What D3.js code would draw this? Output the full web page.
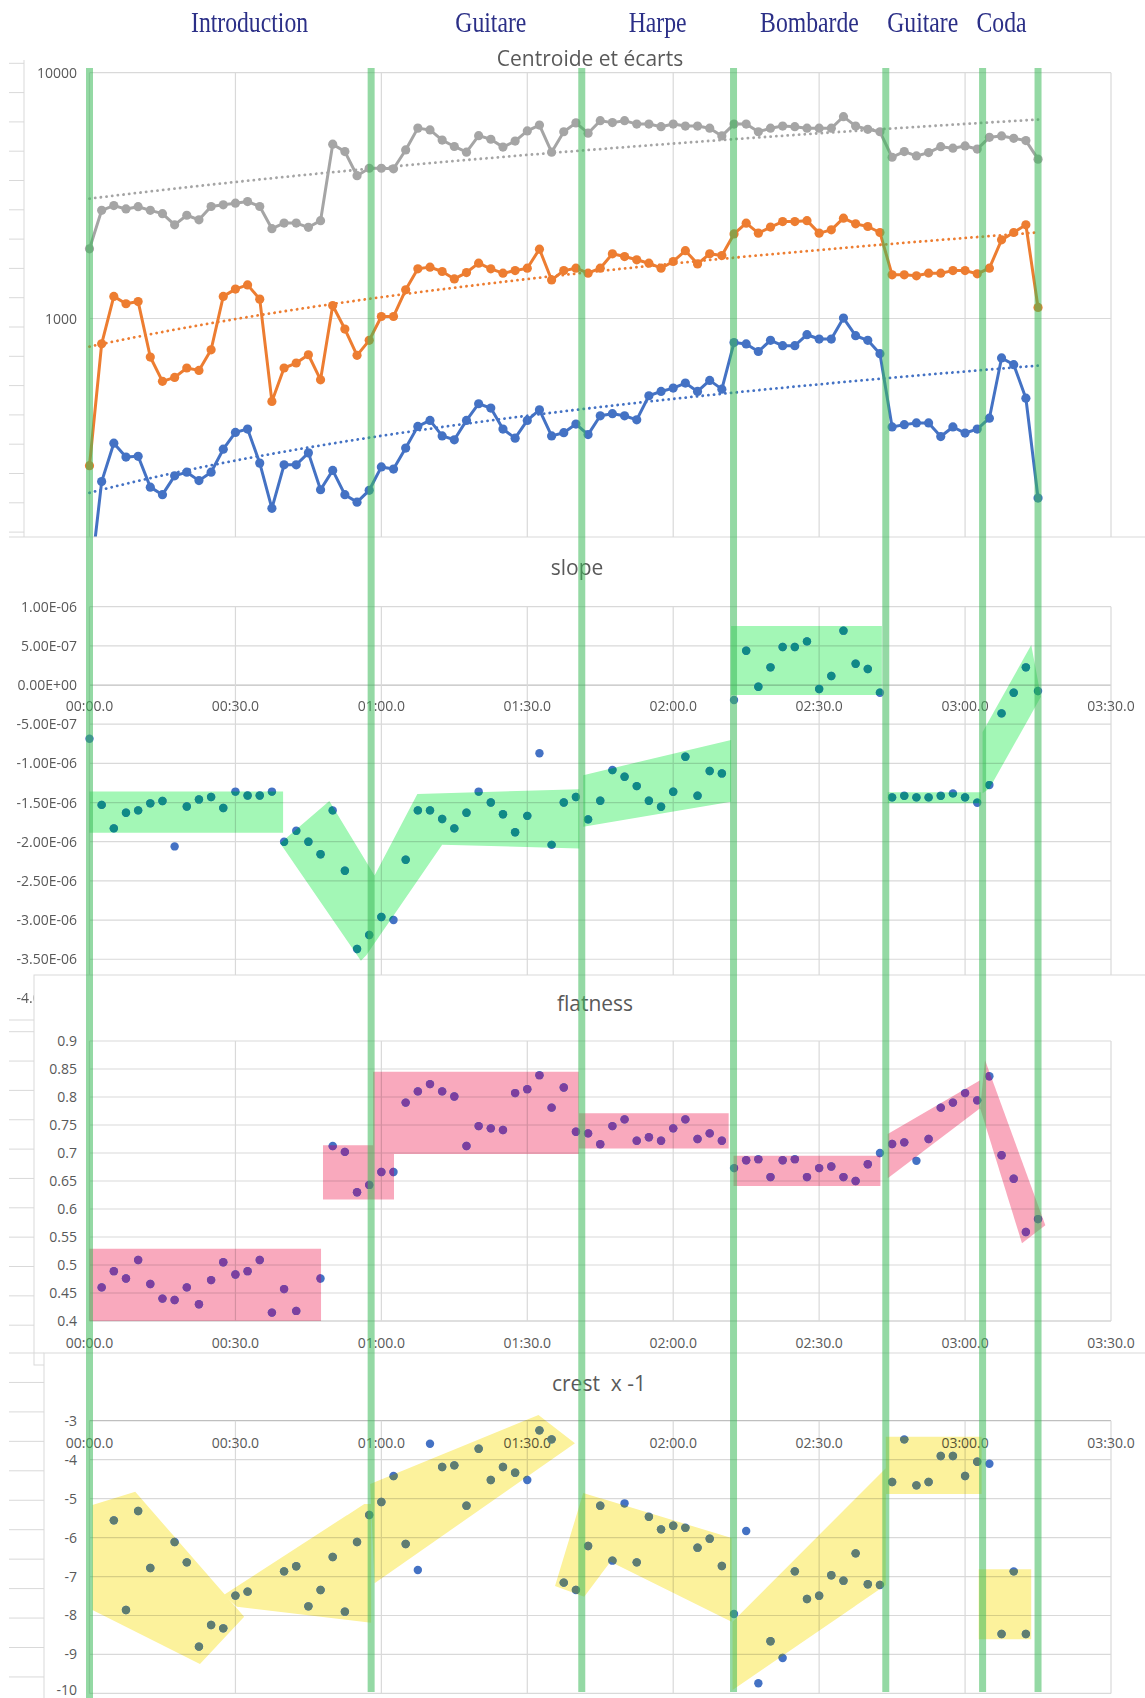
<!DOCTYPE html>
<html>
<head>
<meta charset="utf-8">
<script src="https://cdn.jsdelivr.net/npm/d3@7"></script>
<style>
	body { margin: 0; background: #fff; }
	svg { display: block; }
</style>
</head>
<body>
<div id="chart"></div>
<script>
// ---- data ----
// one analysis frame every 2.5 s, frame 0 at 00:00.0
var step = 2.5;

// sections of the piece: boundaries (s) and the labels on top
var sectionBounds = [0, 57.9, 101.2, 132.4, 163.7, 183.6, 195.0];
var sectionNames = ["Introduction", "Guitare", "Harpe", "Bombarde", "Guitare", "Coda"];
var sectionLabelTime = [32.9, 82.5, 116.8, 148.0, 171.3, 187.5];

// x axis ticks (s)
var timeTicks = [0, 30, 60, 90, 120, 150, 180, 210];

// centroid and spread (Hz), log scale
var centroidHigh = [1920, 2755, 2880, 2790, 2850, 2755, 2670, 2405, 2630, 2520, 2855, 2900, 2945, 2990, 2855, 2320, 2445, 2445, 2350, 2500,
	5120, 4775, 3810, 4085, 4085, 4065, 4850, 5950, 5850, 5320, 5010, 4750, 5545, 5360, 4980, 5270, 5795, 6125, 4750, 5750,
	6250, 5675, 6380, 6265, 6380, 6180, 6180, 6030, 6180, 6065, 6065, 5945, 5530, 6180, 6180, 5750, 5945, 6065, 6030, 5945,
	5945, 5945, 6625, 6065, 5885, 5750, 4530, 4775, 4585, 4730, 5000, 4930, 5035, 4890, 5460, 5530, 5410, 5295, 4450];
var centroid = [252, 789, 1230, 1148, 1172, 697, 555, 576, 629, 615, 746, 1230, 1317, 1370, 1199, 460, 629, 659, 712, 563,
	1129, 906, 708, 815, 1019, 1019, 1309, 1593, 1618, 1553, 1449, 1538, 1679, 1593, 1529, 1566, 1602, 1915, 1435, 1566,
	1602, 1529, 1602, 1833, 1787, 1733, 1679, 1602, 1706, 1888, 1668, 1833, 1804, 2208, 2443, 2225, 2354, 2479, 2479, 2501,
	2225, 2294, 2559, 2427, 2368, 2238, 1505, 1505, 1492, 1529, 1529, 1566, 1566, 1520, 1602, 2089, 2238, 2406, 1109];
var centroidLow = [80, 217, 311, 273, 275, 206, 192, 229, 237, 219, 237, 294, 344, 355, 258, 169, 254, 254, 284, 201,
	241, 192, 179, 200, 249, 244, 297, 364, 385, 333, 321, 385, 450, 432, 355, 326, 385, 425, 333, 343,
	372, 337, 402, 410, 402, 387, 485, 505, 521, 546, 505, 560, 516, 798, 788, 734, 815, 775, 775, 859,
	825, 825, 1004, 851, 815, 719, 362, 370, 376, 376, 331, 362, 342, 355, 393, 691, 649, 474, 186];

// spectral slope (x 1e-6)
var slope = [-0.685, -1.53, -1.83, -1.63, -1.60, -1.51, -1.48, -2.06, -1.55, -1.46, -1.43, -1.57, -1.36, -1.41, -1.41, -1.36, -2.00, -1.86, -2.00, -2.16,
	-1.60, -2.37, -3.37, -3.19, -2.96, -3.00, -2.23, -1.60, -1.60, -1.71, -1.83, -1.63, -1.36, -1.50, -1.65, -1.88, -1.67, -0.87, -2.04, -1.50,
	-1.43, -1.715, -1.477, -1.085, -1.17, -1.29, -1.477, -1.553, -1.362, -0.915, -1.413, -1.098, -1.128, -0.191, 0.438, -0.021, 0.226, 0.485, 0.485, 0.557,
	-0.051, 0.115, 0.694, 0.272, 0.204, -0.098, -1.434, -1.413, -1.434, -1.434, -1.413, -1.383, -1.434, -1.502, -1.277, -0.362, -0.098, 0.226, -0.077];

// spectral flatness (null = off the axis)
var flatness = [null, 0.460, 0.489, 0.476, 0.509, 0.466, 0.440, 0.4375, 0.460, 0.430, 0.473, 0.505, 0.483, 0.489, 0.509, 0.415, 0.457, 0.418, null, 0.476,
	0.7125, 0.702, 0.630, 0.643, 0.666, 0.666, 0.790, 0.810, 0.823, 0.810, 0.801, 0.7125, 0.748, 0.744, 0.741, 0.807, 0.814, 0.839, 0.781, 0.817,
	0.738, 0.735, 0.7155, 0.748, 0.760, 0.722, 0.728, 0.722, 0.744, 0.760, 0.725, 0.735, 0.722, 0.673, 0.687, 0.689, 0.657, 0.687, 0.689, 0.657,
	0.673, 0.676, 0.657, 0.650, 0.680, 0.700, 0.716, 0.719, 0.686, 0.725, 0.781, 0.790, 0.807, 0.794, 0.837, 0.696, 0.654, 0.559, 0.582];

// crest factor x -1 (null = off the axis)
var crest = [null, null, -5.558, -7.859, -5.318, -6.781, null, -6.114, -6.636, -8.80, -8.244, -8.33, -7.49, -7.388, null, null, -6.867, -6.738, -7.765, -7.346,
	-6.499, -7.902, -6.114, -5.421, -5.087, -4.42, -6.165, -6.832, -3.59, -4.189, -4.146, -5.181, -3.719, -4.523, -4.189, -4.334, -4.523, -3.248, -3.479, -7.157,
	-7.346, -6.216, -5.181, -6.593, -5.121, -6.636, -5.464, -5.789, -5.695, -5.746, -6.259, -6.028, -6.730, -7.962, -5.832, -9.741, -8.663, -9.091, -6.867, -7.577,
	-7.491, -6.969, -7.106, -6.405, -7.20, -7.217, -4.574, -3.479, -4.66, -4.574, -3.907, -3.907, -4.42, -4.052, -4.104, -8.475, -6.867, -8.475, null];

// hand drawn highlight shapes, vertices as [time (s), value]
var slopeBands = [
	[[0, -1.36], [39.8, -1.36], [39.8, -1.885], [0, -1.885]],
	[[39.2, -2.02], [49.3, -1.48], [58.6, -2.43], [67.4, -1.39], [100.7, -1.33], [100.7, -2.085], [72.5, -2.04], [56.9, -3.45], [55.8, -3.52]],
	[[101.5, -1.15], [131.9, -0.70], [131.9, -1.49], [101.5, -1.81]],
	[[131.9, 0.753], [162.9, 0.753], [162.9, -0.128], [131.9, -0.128]],
	[[164.1, -1.37], [183.3, -1.37], [183.3, -1.51], [164.1, -1.51]],
	[[183.6, -0.60], [193.6, 0.51], [195.6, -0.15], [185.0, -1.32], [183.6, -1.38]]
];
var flatBands = [
	[[0, 0.529], [47.6, 0.529], [47.6, 0.40], [0, 0.40]],
	[[48.0, 0.714], [62.6, 0.714], [62.6, 0.617], [48.0, 0.617]],
	[[58.3, 0.845], [100.6, 0.845], [100.6, 0.698], [58.3, 0.698]],
	[[100.6, 0.771], [131.4, 0.771], [131.4, 0.708], [100.6, 0.708]],
	[[132.4, 0.695], [162.6, 0.695], [162.6, 0.641], [132.4, 0.641]],
	[[164.1, 0.734], [183.1, 0.830], [183.1, 0.780], [164.1, 0.655]],
	[[183.1, 0.78], [184.1, 0.866], [196.5, 0.571], [191.7, 0.539]]
];
var crestBands = [
	[[0.6, -5.164], [9.4, -4.822], [31.8, -8.03], [22.7, -9.245], [0.6, -7.859]],
	[[27.6, -7.474], [56.5, -5.139], [57.9, -5.139], [57.9, -8.184], [30.3, -7.773]],
	[[57.7, -4.625], [92.3, -2.855], [99.8, -3.582], [58.6, -7.174]],
	[[95.7, -7.243], [101.5, -4.856], [132.0, -6.011], [132.0, -8.159], [107.1, -6.619], [101.7, -7.517], [96.8, -7.294]],
	[[132.2, -8.159], [163.7, -4.222], [163.7, -7.217], [132.2, -9.912]],
	[[163.7, -3.41], [183.4, -3.41], [183.4, -4.881], [163.7, -4.881]],
	[[182.8, -6.815], [193.6, -6.815], [193.6, -8.611], [182.8, -8.611]]
];

// ---- settings ----
var svgWidth = 1145;
var svgHeight = 1698;
var gridColor = "#d9d9d9";
var axisColor = "#bfbfbf";
var textColor = "#595959";
var uiFont = "'Open Sans', 'Noto Sans', sans-serif";
var dotBlue = "#4472c4";

var svg = d3.select("#chart")
	.append("svg")
	.attr("width", svgWidth)
	.attr("height", svgHeight);

svg.append("rect").attr("width", svgWidth).attr("height", svgHeight).attr("fill", "#fff");

// shared time scale for all four panels
var x = d3.scaleLinear().domain([0, 210]).range([89.5, 1111]);

// mm:ss.0
function fmtTime(s) {
	var m = Math.floor(s / 60), r = s - m * 60;
	return String(m).padStart(2, "0") + ":" + String(r.toFixed(1)).padStart(4, "0");
}

// 1.00E-06 style labels (values in 1e-6)
function fmtE(v) {
	if (Math.abs(v) < 1e-9) return "0.00E+00";
	var s = (v * 1e-6).toExponential(2).split("e");
	var e = +s[1];
	return s[0] + "E" + (e < 0 ? "-" : "+") + String(Math.abs(e)).padStart(2, "0");
}

// little grey ticks of the chart hidden behind
function decorTicks(x1, x2, ys) {
	svg.append("g").selectAll("line")
		.data(ys)
		.join("line")
		.attr("x1", x1).attr("x2", x2)
		.attr("y1", d => d).attr("y2", d => d)
		.attr("stroke", gridColor);
}

function title(txt, cx, y) {
	svg.append("text")
		.attr("x", cx).attr("y", y)
		.attr("text-anchor", "middle")
		.attr("font-family", uiFont)
		.attr("font-size", "21px")
		.attr("fill", textColor)
		.style("white-space", "pre")
		.text(txt);
}

// gridlines + tick labels for one panel
function drawGrid(g, y, yTicks, yFmt, yTop, yBottom, axisValue, xLabelY) {
	g.append("g").selectAll("line")
		.data(yTicks)
		.join("line")
		.attr("x1", x(0)).attr("x2", x(210))
		.attr("y1", d => y(d)).attr("y2", d => y(d))
		.attr("stroke", d => Math.abs(d - axisValue) < 1e-9 ? axisColor : gridColor)
		.attr("stroke-width", 1.2);
	g.append("g").selectAll("line")
		.data(timeTicks)
		.join("line")
		.attr("x1", d => x(d)).attr("x2", d => x(d))
		.attr("y1", yTop).attr("y2", yBottom)
		.attr("stroke", gridColor)
		.attr("stroke-width", 1.2);
	g.append("g").selectAll("text")
		.data(yTicks)
		.join("text")
		.attr("x", 77)
		// keep the lowest label inside the page
		.attr("y", d => Math.min(y(d) + 5, svgHeight - 3))
		.attr("text-anchor", "end")
		.attr("font-family", uiFont)
		.attr("font-size", "14px")
		.attr("fill", textColor)
		.text(yFmt);
	if (xLabelY != null)
		g.append("g").selectAll("text")
			.data(timeTicks)
			.join("text")
			.attr("x", d => x(d))
			.attr("y", xLabelY)
			.attr("text-anchor", "middle")
			.attr("font-family", uiFont)
			.attr("font-size", "14px")
			.attr("fill", textColor)
			.text(fmtTime);
}

// highlight shapes under the dots, then the dots, then a tinted copy of the dots inside the shapes
function drawScatter(g, id, y, values, bands, bandColor, insideColor) {
	var polyPath = b => "M" + b.map(p => x(p[0]) + "," + y(p[1])).join("L") + "Z";
	var pts = values.map((v, i) => ({ t: i * step, v: v })).filter(d => d.v != null);

	g.append("g")
		.style("mix-blend-mode", "multiply")
		.selectAll("path")
		.data(bands)
		.join("path")
		.attr("d", polyPath)
		.attr("fill", bandColor);

	g.append("clipPath").attr("id", id)
		.selectAll("path")
		.data(bands)
		.join("path")
		.attr("d", polyPath);

	g.append("g").selectAll("circle")
		.data(pts)
		.join("circle")
		.attr("cx", d => x(d.t))
		.attr("cy", d => y(d.v))
		.attr("r", 4.2)
		.attr("fill", dotBlue);

	g.append("g")
		.attr("clip-path", "url(#" + id + ")")
		.selectAll("circle")
		.data(pts)
		.join("circle")
		.attr("cx", d => x(d.t))
		.attr("cy", d => y(d.v))
		.attr("r", 4.2)
		.attr("fill", insideColor);
}

// ---- header: sections ----
svg.append("g").selectAll("text")
	.data(sectionNames)
	.join("text")
	.attr("transform", (d, i) => `translate(${x(sectionLabelTime[i])}, 32) scale(0.79, 1)`)
	.attr("text-anchor", "middle")
	.attr("font-family", "'Liberation Serif', 'Times New Roman', serif")
	.attr("font-size", "30px")
	.attr("fill", "#2b2f87")
	.text(d => d);

// ---- panel 1: centroid ----
decorTicks(9, 24, d3.range(63.3, 535, 29.3));
svg.append("line").attr("x1", 24).attr("x2", 24).attr("y1", 60).attr("y2", 537).attr("stroke", gridColor);
title("Centroide et écarts", 590, 66);

var yTop = d3.scaleLog().domain([1000, 10000]).range([318.5, 72.7]);
var topG = svg.append("g");
drawGrid(topG, yTop, [10000, 1000], d => d, 72.7, 537, null, null);

svg.append("clipPath").attr("id", "topClip")
	.append("rect").attr("x", 0).attr("y", 60).attr("width", svgWidth).attr("height", 477);
var topPlot = topG.append("g").attr("clip-path", "url(#topClip)");

var centroidSeries = [
	{ values: centroidHigh, color: "#a5a5a5" },
	{ values: centroid, color: "#ed7d31" },
	{ values: centroidLow, color: "#4472c4" }
];

centroidSeries.forEach(function (s) {
	// linear trend line (least squares), drawn on the log axis
	var ts = s.values.map((v, i) => i * step);
	var mt = d3.mean(ts), mv = d3.mean(s.values);
	var b = d3.sum(ts, (t, i) => (t - mt) * (s.values[i] - mv)) / d3.sum(ts, t => (t - mt) * (t - mt));
	var a = mv - b * mt;
	var trend = d3.range(0, ts[ts.length - 1] + 0.01, 1).map(t => [t, a + b * t]);
	topPlot.append("path")
		.attr("d", d3.line().x(d => x(d[0])).y(d => yTop(d[1]))(trend))
		.attr("fill", "none")
		.attr("stroke", s.color)
		.attr("stroke-width", 2.8)
		.attr("stroke-linecap", "round")
		.attr("stroke-dasharray", "0.1 5.6");

	topPlot.append("path")
		.attr("d", d3.line().x((d, i) => x(i * step)).y(d => yTop(d))(s.values))
		.attr("fill", "none")
		.attr("stroke", s.color)
		.attr("stroke-width", 3)
		.attr("stroke-linejoin", "round");

	topPlot.append("g").selectAll("circle")
		.data(s.values)
		.join("circle")
		.attr("cx", (d, i) => x(i * step))
		.attr("cy", d => yTop(d))
		.attr("r", 4.6)
		.attr("fill", s.color);
});

// ---- panel 2: slope ----
svg.append("rect").attr("x", 0).attr("y", 537).attr("width", svgWidth).attr("height", svgHeight - 537).attr("fill", "#fff");
svg.append("line").attr("x1", 9).attr("x2", svgWidth).attr("y1", 537).attr("y2", 537).attr("stroke", gridColor);
title("slope", 577, 575);

var ySlope = d3.scaleLinear().domain([-4, 1]).range([998.4, 606.7]);
var slopeG = svg.append("g");
drawGrid(slopeG, ySlope, d3.range(1, -4.01, -0.5), fmtE, 606.7, 998.4, 0, 711);
drawScatter(slopeG, "slopeClip", ySlope, slope, slopeBands, "#a3f7b6", "#108a86");

// ---- panel 3: flatness ----
decorTicks(9, 34, [1020].concat(d3.range(1031.7, 1330, 29.35)));
svg.append("rect").attr("x", 34).attr("y", 975).attr("width", svgWidth).attr("height", 390)
	.attr("fill", "#fff").attr("stroke", gridColor);
title("flatness", 595, 1011);

var yFlat = d3.scaleLinear().domain([0.4, 0.9]).range([1321, 1041]);
var flatG = svg.append("g");
drawGrid(flatG, yFlat, d3.range(0.4, 0.901, 0.05), d3.format(".2~f"), 1041, 1321, 0.4, 1348);
drawScatter(flatG, "flatClip", yFlat, flatness, flatBands, "#f9a9bd", "#7d3f9f");

// ---- panel 4: crest ----
decorTicks(9, 44, d3.range(1353, 1690, 29.45));
svg.append("rect").attr("x", 44).attr("y", 1353).attr("width", svgWidth).attr("height", 400)
	.attr("fill", "#fff").attr("stroke", gridColor);
title("crest  x -1", 599, 1391);

var yCrest = d3.scaleLinear().domain([-10, -3]).range([1693.4, 1420.7]);
var crestG = svg.append("g");
drawGrid(crestG, yCrest, d3.range(-3, -10.01, -1), d => d, 1420.7, 1693.4, -3, 1448);
drawScatter(crestG, "crestClip", yCrest, crest, crestBands, "#fcf29c", "#5f7d70");

// ---- section boundaries, on top of everything ----
svg.append("g").selectAll("line")
	.data(sectionBounds)
	.join("line")
	.attr("x1", d => x(d)).attr("x2", d => x(d))
	.attr("y1", 68)
	.attr("y2", (d, i) => i === 0 ? svgHeight : 1692)
	.attr("stroke", "rgba(60, 185, 90, 0.55)")
	.attr("stroke-width", 7);
</script>
</body>
</html>
